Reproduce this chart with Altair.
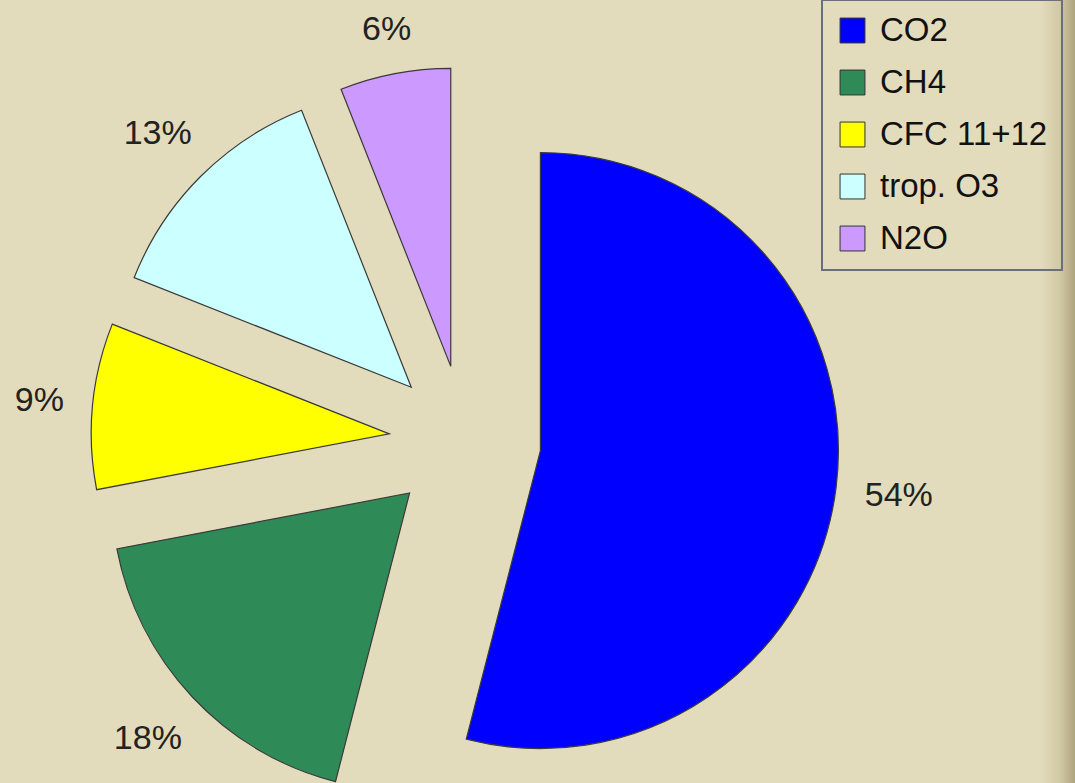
import altair as alt
import pandas as pd

# ---- data ----
gases = ["CO2", "CH4", "CFC 11+12", "trop. O3", "N2O"]
shares = [54, 18, 9, 13, 6]
order = [0, 1, 2, 3, 4]
colors = ["#0000ff", "#2e8b57", "#ffff00", "#ccffff", "#cc99ff"]

df = pd.DataFrame({"gas": gases, "share": shares, "order": order})

# ---- layout (style) ----
W, H = 1075, 783
CX, CY = 465, 441      # pie centre
EXPLODE = 76           # explosion distance
R = 298                # slice radius
RL = 402               # label inner radius (text box edge)
FS = 34                # label font size
BG = "#e3dcbc"

base = alt.Chart(df).transform_joinaggregate(
    total="sum(share)"
).transform_window(
    cum="sum(share)", sort=[alt.SortField("order")], frame=[None, 0]
).transform_calculate(
    a0="(datum.cum - datum.share) / datum.total * 2 * PI",
    a1="datum.cum / datum.total * 2 * PI",
    label="datum.share + '%'",
).transform_calculate(
    mid="(datum.a0 + datum.a1) / 2",
    hw="(length(datum.label) - 1) * 9.5 + 15",
).transform_calculate(
    rl=f"{RL} + abs(sin(datum.mid)) * datum.hw + abs(cos(datum.mid)) * 12",
).transform_calculate(
    cx=f"{CX} + {EXPLODE} * sin(datum.mid)",
    cy=f"{CY} - {EXPLODE} * cos(datum.mid)",
    lx=f"{CX} + datum.rl * sin(datum.mid)",
    ly=f"{CY} - datum.rl * cos(datum.mid)",
)

edge = alt.Chart(df).mark_rect(
    color=alt.LinearGradient(
        gradient="linear",
        stops=[
            alt.GradientStop(color=BG, offset=0),
            alt.GradientStop(color="#d2c9a5", offset=0.55),
            alt.GradientStop(color="#aea57f", offset=1),
        ],
        x1=0, x2=1, y1=0, y2=0,
    )
).encode(
    x=alt.value(1040), x2=alt.value(W), y=alt.value(0), y2=alt.value(H)
).transform_filter("datum.order == 0")

slices = base.mark_arc(
    radius=R, stroke="#3a3a3a", strokeWidth=1.2
).encode(
    x=alt.X("cx:Q", scale=None),
    y=alt.Y("cy:Q", scale=None),
    theta=alt.Theta("a0:Q", scale=None, stack=None),
    theta2="a1:Q",
    color=alt.Color(
        "gas:N",
        scale=alt.Scale(domain=gases, range=colors),
        legend=alt.Legend(
            title=None,
            orient="none",
            legendX=822,
            legendY=0,
            symbolType="square",
            symbolSize=620,
            symbolStrokeColor="#333333",
            symbolStrokeWidth=1,
            labelFont="Liberation Sans",
            labelFontSize=33,
            labelColor="#111111",
            labelOffset=11,
            labelLimit=400,
            rowPadding=18,
            padding=14,
            strokeColor="#6b6f78",
        ),
    ),
    order=alt.Order("order:Q"),
)

labels = base.mark_text(
    font="Liberation Sans", fontSize=FS, color="#222222",
    align="center", baseline="middle",
).encode(
    x=alt.X("lx:Q", scale=None),
    y=alt.Y("ly:Q", scale=None),
    text="label:N",
)

chart = alt.layer(edge, slices, labels).properties(
    width=W, height=H, padding=0, autosize=alt.AutoSizeParams(type="none"),
    background=BG,
).configure_view(stroke=None).configure_legend(strokeWidth=2)

chart.save("out.html", embed_options={"renderer": "svg", "actions": False})
